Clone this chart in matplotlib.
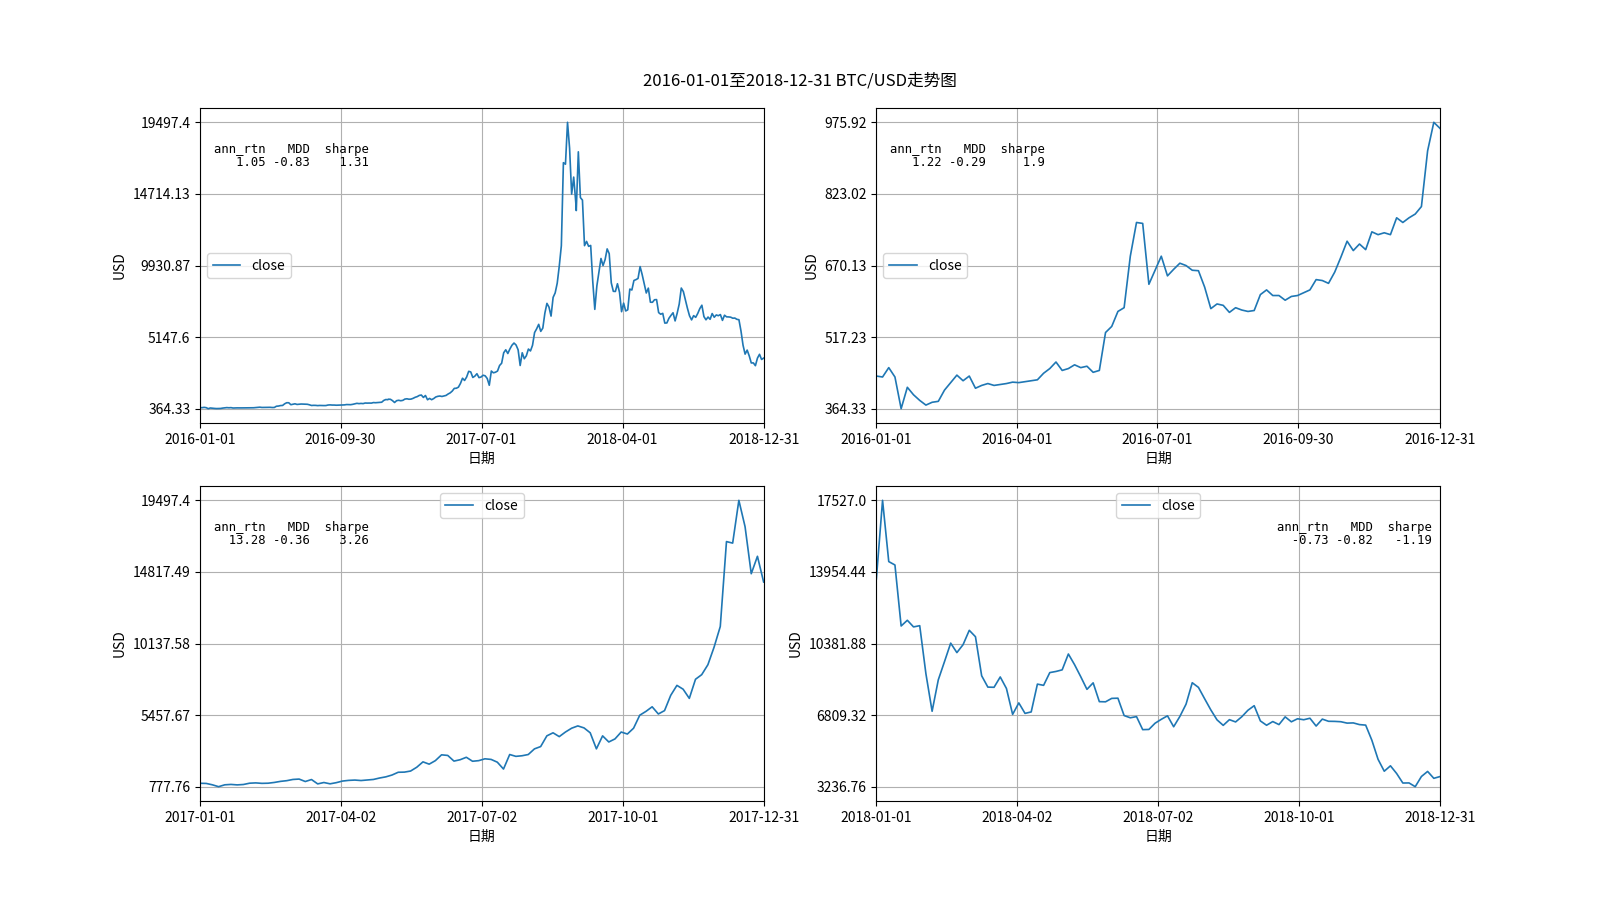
from decimal import Decimal, ROUND_HALF_UP
import numpy as np
import pandas as pd
import matplotlib
matplotlib.use('Agg')
import matplotlib.pyplot as plt

plt.rcParams['font.family'] = ['Noto Sans CJK SC', 'DejaVu Sans']
plt.rcParams['axes.unicode_minus'] = False

close_2016 = [434, 432, 452, 432, 364.33, 410, 394, 382,
              372, 378, 380, 404, 420, 436, 424, 434,
              408, 414, 418, 414, 416, 418, 421, 420,
              422, 424, 426, 440, 450, 464, 446, 450,
              458, 452, 455, 442, 446, 527, 540, 572,
              580, 690, 762, 760, 630, 660, 690, 648,
              662, 675, 670, 660, 659, 624, 578, 588,
              585, 570, 580, 575, 572, 574, 608, 618,
              606, 606, 596, 604, 606, 612, 618, 640,
              638, 632, 656, 688, 722, 702, 716, 704,
              742, 736, 740, 736, 772, 762, 772, 780,
              796, 915, 975.92, 963]

close_2017 = [1000, 990, 900, 777.76, 900, 925, 895, 920,
              1005, 1025, 995, 1005, 1055, 1125, 1170, 1250,
              1275, 1115, 1245, 960, 1050, 965, 1040, 1145,
              1190, 1210, 1180, 1215, 1250, 1345, 1420, 1540,
              1720, 1730, 1800, 2050, 2400, 2250, 2480, 2860,
              2820, 2450, 2540, 2700, 2440, 2480, 2600, 2560,
              2380, 1930, 2880, 2760, 2800, 2880, 3250, 3400,
              4100, 4300, 4050, 4350, 4600, 4750, 4620, 4300,
              3250, 4100, 3700, 3900, 4350, 4220, 4600, 5450,
              5700, 6000, 5530, 5750, 6750, 7400, 7150, 6550,
              7800, 8100, 8750, 9900, 11250, 16800, 16700, 19497.4,
              17776, 14699, 15838, 14156]

close_2018 = [13600, 17527.0, 14469, 14300, 11256, 11541, 11210, 11271,
              8873, 7000, 8570, 9478, 10400, 9928, 10324, 11040,
              10720, 8771, 8206, 8196, 8712, 8138, 6845, 7417,
              6894, 6968, 8355, 8294, 8930, 8987, 9067, 9858,
              9325, 8723, 8094, 8419, 7480, 7472, 7643, 7653,
              6786, 6675, 6734, 6083, 6093, 6404, 6598, 6773,
              6228, 6741, 7355, 8424, 8192, 7624, 7068, 6571,
              6297, 6581, 6468, 6727, 7053, 7278, 6518, 6302,
              6487, 6335, 6721, 6474, 6626, 6577, 6652, 6263,
              6609, 6500, 6495, 6478, 6409, 6419, 6335, 6309,
              5553, 4602, 4009, 4278, 3894, 3419, 3424, 3236.76,
              3745, 3998, 3654, 3742]

starts = ['2016-01-01', '2016-01-01', '2017-01-01', '2018-01-01']
ends = ['2018-12-31', '2016-12-31', '2017-12-31', '2018-12-31']
ann_rtn = [1.05, 1.22, 13.28, -0.73]
mdd = [-0.83, -0.29, -0.36, -0.82]
sharpe = [1.31, 1.9, 3.26, -1.19]
legend_loc = ['center left', 'center left', 'upper center', 'upper center']


def to_series(values, start, end):
    idx = pd.date_range(start, end, periods=len(values))
    return pd.Series(values, index=idx)


def tick_text(v):
    # round half up to 2 decimals, then print like a python float
    d = Decimal(f"{v:.6f}").quantize(Decimal('0.01'), rounding=ROUND_HALF_UP)
    return str(float(d))


s2016 = to_series(close_2016, '2016-01-01', '2016-12-31')
s2017 = to_series(close_2017, '2017-01-01', '2017-12-31')
s2018 = to_series(close_2018, '2018-01-01', '2018-12-31')
series = [pd.concat([s2016, s2017, s2018]), s2016, s2017, s2018]

fig, axes = plt.subplots(2, 2, figsize=(16, 9), dpi=100)
fig.suptitle('2016-01-01至2018-12-31 BTC/USD走势图', y=0.92, fontsize=12)

for i, ax in enumerate(axes.flat):
    s = series[i]
    ax.plot(s.index, s.values, color='C0', lw=1.2, label='close')
    ax.set_xlim(pd.Timestamp(starts[i]), pd.Timestamp(ends[i]))

    yt = np.linspace(s.min(), s.max(), 5)
    ax.set_yticks(yt)
    ax.set_yticklabels([tick_text(v) for v in yt])

    xt = pd.date_range(starts[i], ends[i], periods=5).floor('D')
    ax.set_xticks(xt)
    ax.set_xticklabels([d.strftime('%Y-%m-%d') for d in xt])

    ax.grid(True)
    ax.set_xlabel('日期')
    ax.set_ylabel('USD')
    ax.legend(loc=legend_loc[i])

    stats = f"{'ann_rtn':>7} {'MDD':>5}  {'sharpe':>6}\n" \
            f"{str(ann_rtn[i]):>7} {str(mdd[i]):>5}  {str(sharpe[i]):>6}"
    if i == 3:
        ax.text(0.985, 0.89, stats, transform=ax.transAxes, ha='right', va='top',
                family=['DejaVu Sans Mono'], fontsize=8.8, linespacing=1.05)
    else:
        ax.text(0.025, 0.89, stats, transform=ax.transAxes, ha='left', va='top',
                family=['DejaVu Sans Mono'], fontsize=8.8, linespacing=1.05)

fig.savefig('out.png', dpi=100)
